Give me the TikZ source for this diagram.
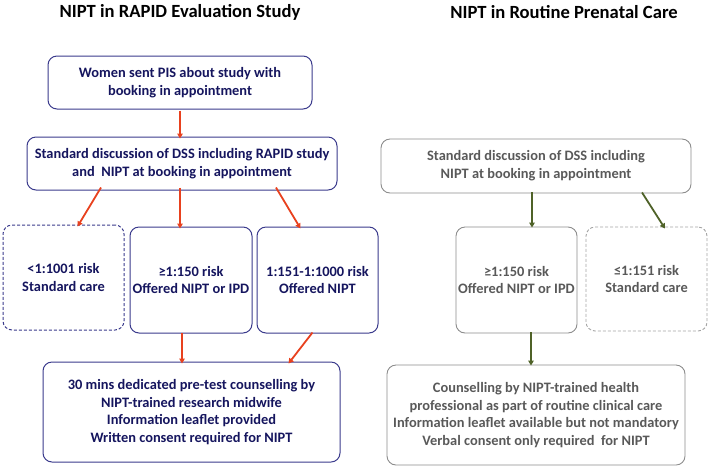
\documentclass[tikz,border=0pt]{standalone}
\usepackage{fontspec}
\setmainfont{Carlito}
\usepackage{tikz}
\usetikzlibrary{arrows.meta}
\usepackage{xcolor}
\definecolor{rapidtext}{HTML}{15155E}
\definecolor{rapidline}{HTML}{3A3A8C}
\definecolor{rapidarrow}{HTML}{E8411E}
\definecolor{routinetext}{HTML}{595959}
\definecolor{routineline}{HTML}{8C8C8C}
\definecolor{routinearrow}{HTML}{4F6228}

\begin{document}
\begin{tikzpicture}[x=1pt,y=-1pt,
  font=\fontsize{14.4}{17.7}\selectfont\bfseries,
  rapidbox/.style={draw=rapidline,line width=1pt,rounded corners=9pt,
    text=rapidtext,align=center,inner sep=0pt},
  routinebox/.style={draw=routineline,line width=0.9pt,rounded corners=9pt,
    text=routinetext,align=center,inner sep=0pt},
  dashbox/.style={dash pattern=on 3pt off 2pt},
  redarrow/.style={draw=rapidarrow,line width=1.8pt,
    -{Triangle[length=5pt,width=5.5pt]}},
  greenarrow/.style={draw=routinearrow,line width=1.8pt,
    -{Triangle[length=5pt,width=5.5pt]}},
  heading/.style={font=\fontsize{18.6}{22}\selectfont\bfseries,text=black}]
\useasboundingbox (0,0) rectangle (709,467);
\node [heading] (rapidtitle) at (180,12) {NIPT in RAPID Evaluation Study};
\node [heading] (routinetitle) at (564,12) {NIPT in Routine Prenatal Care};
% RAPID study pathway
\path
  (180,82.5) node [rapidbox,minimum width=264pt,minimum height=53pt] (invite)
    {Women sent PIS about study with\\booking in appointment}
  (182,163.5) node [rapidbox,minimum width=310pt,minimum height=53pt] (rapiddss)
    {Standard discussion of DSS including RAPID study\\and~ NIPT at booking in appointment}
  (63.5,277.5) node [rapidbox,dashbox,minimum width=121pt,minimum height=105pt] (lowrisk)
    {<1:1001 risk\\Standard care}
  (191,280) node [rapidbox,minimum width=122pt,minimum height=106pt] (highrisk)
    {≥1:150 risk\\Offered NIPT or IPD}
  (317.5,280) node [rapidbox,minimum width=121pt,minimum height=106pt] (midrisk)
    {1:151-1:1000 risk\\Offered NIPT}
  (191.5,412) node [rapidbox,minimum width=297pt,minimum height=100pt] (pretest)
    {30 mins dedicated pre-test counselling by\\NIPT-trained research midwife\\
     Information leaflet provided\\Written consent required for NIPT};
\draw [redarrow] (invite.south) ++(0,1) -- ([yshift=-2pt]invite.south |- rapiddss.north);
\draw [redarrow] ([xshift=-81pt,yshift=3pt]rapiddss.south) -- ([xshift=14pt,yshift=-2pt]lowrisk.north);
\draw [redarrow] ([xshift=-2pt,yshift=3pt]rapiddss.south) -- ([xshift=-11pt,yshift=-2pt]highrisk.north);
\draw [redarrow] ([xshift=94pt,yshift=3pt]rapiddss.south) -- ([xshift=-17pt,yshift=-2pt]midrisk.north);
\draw [redarrow] ([xshift=-9pt,yshift=1pt]highrisk.south) -- ([xshift=-9.5pt,yshift=-2pt]pretest.north);
\draw [redarrow] ([xshift=-5pt,yshift=1pt]midrisk.south) -- ([xshift=97pt,yshift=-2pt]pretest.north);
% routine care pathway
\path
  (536,166) node [routinebox,minimum width=310pt,minimum height=54pt] (routinedss)
    {Standard discussion of DSS including\\NIPT at booking in appointment}
  (516.5,280) node [routinebox,minimum width=121pt,minimum height=106pt] (routinehigh)
    {≥1:150 risk\\Offered NIPT or IPD}
  (646.5,279) node [routinebox,dashbox,draw=routineline!80,minimum width=121pt,
    minimum height=104pt] (routinelow) {≤1:151 risk\\Standard care}
  (536,415) node [routinebox,minimum width=298pt,minimum height=100pt] (counsel)
    {Counselling by NIPT-trained health\\professional as part of routine clinical care\\
     Information leaflet available but not mandatory\\Verbal consent only required~ for NIPT};
\draw [greenarrow] ([xshift=-4pt,yshift=1pt]routinedss.south) -- ([xshift=15.5pt,yshift=-1pt]routinehigh.north);
\draw [greenarrow] ([xshift=106pt,yshift=1pt]routinedss.south) -- ([xshift=18.5pt,yshift=-2pt]routinelow.north);
\draw [greenarrow] ([xshift=14.5pt,yshift=1pt]routinehigh.south) -- ([xshift=-5pt,yshift=-1pt]counsel.north);
\end{tikzpicture}
\end{document}
